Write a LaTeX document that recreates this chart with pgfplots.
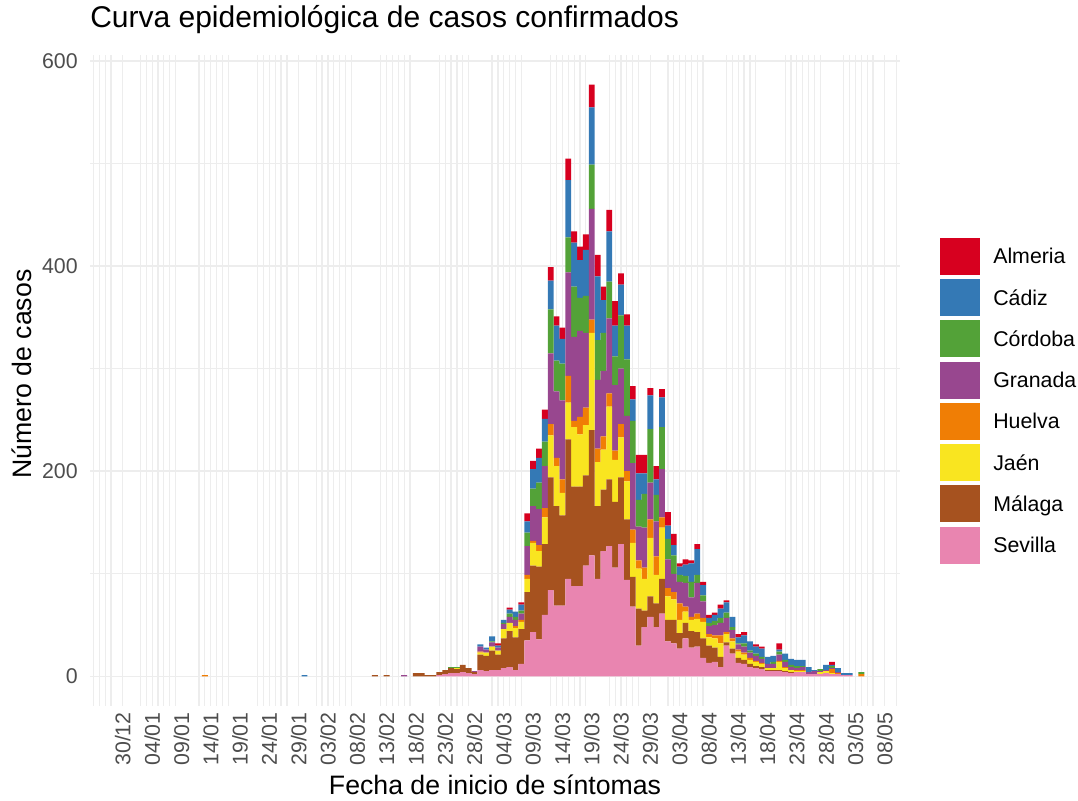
\documentclass[border=0pt]{standalone}
\usepackage{pgfplots}
\pgfplotsset{compat=1.18}
\usepackage{pgfplotstable}
\usepackage{fontspec}
\setmainfont{Liberation Sans}

\definecolor{cAlm}{HTML}{D7001F}
\definecolor{cCad}{HTML}{3479B5}
\definecolor{cCor}{HTML}{53A238}
\definecolor{cGra}{HTML}{98478F}
\definecolor{cHue}{HTML}{F07E05}
\definecolor{cJae}{HTML}{F9E520}
\definecolor{cMal}{HTML}{A6521F}
\definecolor{cSev}{HTML}{E985B0}
\definecolor{gridc}{HTML}{EDEDED}
\definecolor{tickc}{HTML}{4D4D4D}

% square keys in the legend
\pgfplotsset{
  sqlegend/.style={legend image code/.code={\fill[##1] (0pt,-13.45pt) rectangle (30pt,14.3pt);}}
}

% dias desde 30/12; una fila por dia con casos
\pgfplotstableread{
d alm cad cor gra hue jae mal sev
14 0 0 0 0 1 0 0 0
31 0 1 0 0 0 0 0 0
43 0 0 0 0 0 0 1 0
45 0 0 0 0 0 0 1 0
48 0 0 0 1 0 0 0 0
50 0 0 0 0 0 0 3 0
51 0 0 0 0 0 0 3 0
52 0 0 0 0 0 0 1 0
53 0 0 0 0 0 0 1 0
54 0 0 0 0 0 0 3 1
55 0 0 0 0 0 0 4 2
56 0 0 1 0 0 0 5 3
57 0 0 1 0 0 1 4 3
58 0 0 0 0 0 0 7 4
59 0 0 0 0 0 0 5 3
60 0 0 0 1 0 0 2 2
61 0 2 0 5 1 2 15 6
62 0 2 0 3 0 3 15 5
63 0 5 1 4 0 4 19 6
64 2 2 0 3 0 4 15 6
65 0 3 1 5 0 9 29 8
66 2 4 3 6 0 8 35 9
67 0 5 3 6 2 9 32 6
68 2 6 3 6 2 7 34 12
69 8 11 13 28 4 13 47 35
70 8 19 17 34 2 22 65 43
71 9 24 26 35 6 15 71 36
72 9 22 24 41 9 26 69 60
73 13 28 43 69 11 41 110 84
74 9 34 30 65 8 39 97 69
75 11 24 36 77 13 22 88 69
76 21 56 34 101 26 36 136 95
77 11 43 49 82 6 58 97 88
78 13 37 32 84 17 51 97 88
79 15 45 36 73 17 49 88 108
80 22 56 43 108 13 95 122 118
81 21 62 39 67 13 43 71 95
82 13 32 37 64 13 39 60 122
83 21 49 36 73 13 71 65 127
84 24 30 28 64 9 41 64 106
85 11 30 52 54 13 39 65 129
86 11 33 55 54 10 37 59 94
87 13 21 41 65 13 33 29 68
88 18 26 26 33 8 39 36 30
89 18 20 33 39 11 31 16 48
90 7 33 52 36 18 57 20 58
91 13 15 26 34 18 28 23 48
92 8 29 41 47 10 50 34 61
93 13 13 20 28 8 23 21 34
94 11 10 18 18 7 20 23 32
95 3 8 7 21 16 13 15 27
96 5 11 7 23 5 11 15 37
97 3 18 15 19 3 11 16 28
98 5 25 8 30 5 13 14 29
99 3 10 6 16 4 16 19 18
100 3 5 3 8 3 8 17 13
101 2 6 4 10 3 9 14 14
102 4 9 5 12 8 13 10 9
103 2 10 5 14 2 8 3 30
104 0 10 3 8 3 7 5 22
105 3 6 1 5 2 6 5 13
106 3 8 3 6 2 5 4 12
107 0 9 2 5 2 4 3 9
108 2 7 2 5 1 4 2 8
109 2 8 2 4 1 3 2 7
110 0 7 0 4 0 2 1 5
111 0 6 2 4 0 2 1 5
112 6 2 3 6 1 8 1 5
113 0 6 2 5 1 3 1 4
114 0 6 2 3 0 2 1 3
115 0 6 2 2 1 1 0 4
116 0 6 1 3 1 1 0 4
117 0 5 0 2 0 0 0 2
118 0 1 0 3 0 0 0 2
119 0 0 2 1 0 2 0 2
120 0 5 0 1 0 2 0 3
121 3 1 2 1 4 1 0 2
122 0 4 0 1 1 0 0 2
123 0 2 0 0 0 0 0 1
124 0 2 0 0 0 0 0 1
126 0 0 2 0 2 0 0 0
}\casos

\begin{document}
\begin{tikzpicture}
\useasboundingbox (-67.5pt,-70.5pt) rectangle (741pt,529.5pt);
\begin{axis}[
  scale only axis,
  width=607.5pt, height=488.25pt,
  xmin=-5.6, xmax=132.6,
  ymin=-29, ymax=606,
  ybar stacked, bar width=1,
  every axis plot post/.append style={sqlegend},
  axis line style={draw=none},
  major tick length=0pt, minor tick length=0pt,
  tick style={draw=none},
  xtick={0,5,...,130},
  xticklabels={30/12,04/01,09/01,14/01,19/01,24/01,29/01,03/02,08/02,13/02,18/02,23/02,28/02,04/03,09/03,14/03,19/03,24/03,29/03,03/04,08/04,13/04,18/04,23/04,28/04,03/05,08/05},
  minor xtick={-5,-4,-3,-2,0,3,4,5,6,7,8,9,13,14,15,16,17,18,23,24,25,26,27,28,30,33,34,35,36,37,38,39,44,45,46,47,48,49,54,55,56,57,58,59,63,64,65,66,67,68,73,74,75,76,77,78,79,83,84,85,86,87,88,90,93,94,95,96,97,98,99,103,104,105,106,107,108,113,114,115,116,117,118,119,123,124,125,126,127,128,130,132},
  ytick={0,200,400,600},
  minor ytick={100,300,500},
  xmajorgrids=false, xminorgrids=true,
  ymajorgrids=true, yminorgrids=true,
  major y grid style={color=gridc, line width=1.1pt},
  minor y grid style={color=gridc, line width=0.55pt},
  minor x grid style={color=gridc, line width=0.9pt},
  /pgf/number format/assume math mode=true,
  ticklabel style={font=\fontsize{16}{19}\selectfont, text=tickc, inner sep=0pt},
  xticklabel style={rotate=90, anchor=east},
  yticklabel style={anchor=east},
  xticklabel shift=4.5pt,
  yticklabel shift=9pt,
  title={Curva epidemiológica de casos confirmados},
  title style={at={(axis description cs:0,1.0307)}, anchor=base west, inner sep=0pt,
               font=\fontsize{22.5}{27}\selectfont},
  xlabel={Fecha de inicio de síntomas},
  xlabel style={at={(axis description cs:0.5,-0.1214)}, anchor=center,
                font=\fontsize{20}{24}\selectfont},
  ylabel={Número de casos},
  ylabel style={at={(axis description cs:-0.084,0.51)}, anchor=center,
                font=\fontsize{20}{24}\selectfont},
  reverse legend,
  legend cell align=left,
  legend style={at={(axis description cs:1.0494,0.7195)}, anchor=north west,
                draw=none, fill=none, inner sep=0pt, row sep=3.2pt,
                font=\fontsize{16}{19}\selectfont,
                nodes={inner sep=0pt},
                /tikz/every odd column/.append style={column sep=9.75pt}},
]
\addplot[fill=cSev, draw=none] table[x=d, y=sev] {\casos};
\addlegendentry{Sevilla}
\addplot[fill=cMal, draw=none] table[x=d, y=mal] {\casos};
\addlegendentry{Málaga}
\addplot[fill=cJae, draw=none] table[x=d, y=jae] {\casos};
\addlegendentry{Jaén}
\addplot[fill=cHue, draw=none] table[x=d, y=hue] {\casos};
\addlegendentry{Huelva}
\addplot[fill=cGra, draw=none] table[x=d, y=gra] {\casos};
\addlegendentry{Granada}
\addplot[fill=cCor, draw=none] table[x=d, y=cor] {\casos};
\addlegendentry{Córdoba}
\addplot[fill=cCad, draw=none] table[x=d, y=cad] {\casos};
\addlegendentry{Cádiz}
\addplot[fill=cAlm, draw=none] table[x=d, y=alm] {\casos};
\addlegendentry{Almeria}

\node[anchor=base west, inner sep=0pt, font=\fontsize{19.5}{23}\selectfont]
  at (axis description cs:1.0494,0.7465) {Provincia};
\end{axis}
\end{tikzpicture}
\end{document}
